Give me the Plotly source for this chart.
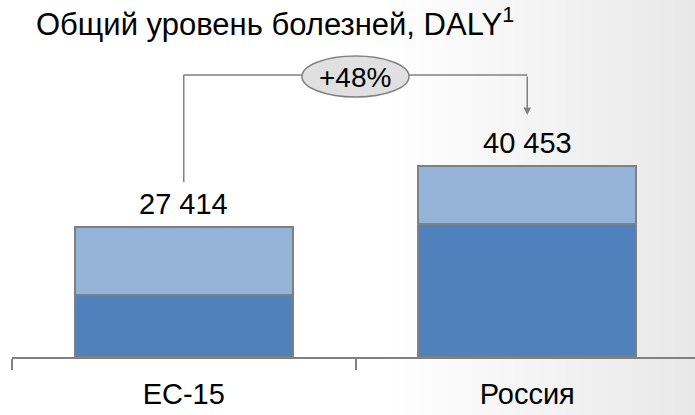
import plotly.graph_objects as go

# ---- data ----
categories = ["ЕС-15", "Россия"]
dark_values = [13100, 28100]      # lower segment
light_values = [14314, 12353]     # upper segment
total_labels = ["27 414", "40 453"]
totals = [27414, 40453]
title_text = "Общий уровень болезней, DALY<sup>1</sup>"

W, H = 695, 415
ML, MB = 12, 58
PW, PH = W - ML, H - MB

def px_x(px):
    return (px - ML) / PW

def px_y(py):
    return (H - MB - py) / PH

FONT = "Liberation Sans, Arial, sans-serif"
GRAY = "#808080"

fig = go.Figure()
fig.add_trace(go.Bar(x=categories, y=dark_values, marker=dict(color="#4f81bd", line=dict(color=GRAY, width=2)),
                     hoverinfo="skip"))
fig.add_trace(go.Bar(x=categories, y=light_values, marker=dict(color="#95b3d7", line=dict(color=GRAY, width=2)),
                     hoverinfo="skip"))

shapes = []
# background gradient (style)
n = 60
x_start, x_end = 385, 695
for i in range(n):
    a = x_start + (x_end - x_start) * i / n
    b = x_start + (x_end - x_start) * (i + 1) / n
    t = (i + 0.5) / n
    v = int(round(255 - (255 - 232) * t))
    shapes.append(dict(type="rect", xref="paper", yref="paper", x0=px_x(a), x1=px_x(b) + 0.002,
                       y0=px_y(H), y1=px_y(0), fillcolor=f"rgb({v},{v},{v})", line=dict(width=0),
                       layer="below"))
# bracket
shapes.append(dict(type="line", xref="x", yref="paper", x0=0, x1=0, y0=px_y(182), y1=px_y(75),
                   line=dict(color=GRAY, width=1.5)))
shapes.append(dict(type="line", xref="x", yref="paper", x0=0, x1=1, y0=px_y(75), y1=px_y(75),
                   line=dict(color=GRAY, width=1.5)))
shapes.append(dict(type="circle", xref="paper", yref="paper", x0=px_x(302), x1=px_x(409),
                   y0=px_y(97), y1=px_y(56), fillcolor="#e0e0e0", line=dict(color=GRAY, width=1.5)))

annotations = []
for c, t, lab in zip(categories, totals, total_labels):
    annotations.append(dict(x=c, y=t, xref="x", yref="y", text=lab, showarrow=False, yanchor="bottom",
                            xanchor="center", yshift=5, font=dict(family=FONT, size=29, color="#000000")))
pct = round((totals[1] / totals[0] - 1) * 100)
annotations.append(dict(x=px_x(355.5), y=px_y(77), xref="paper", yref="paper", text=f"+{pct}%",
                        showarrow=False, xanchor="center", yanchor="middle",
                        font=dict(family=FONT, size=28, color="#000000")))
annotations.append(dict(x=1, y=px_y(115), xref="x", yref="paper", text="", showarrow=True,
                        ax=0, ay=-40, arrowhead=2, arrowsize=1, arrowwidth=1.5, arrowcolor=GRAY))
annotations.append(dict(x=px_x(34), y=px_y(22), xref="paper", yref="paper", text=title_text,
                        showarrow=False, xanchor="left", yanchor="middle",
                        font=dict(family=FONT, size=31, color="#000000")))

fig.update_layout(
    width=W, height=H, barmode="stack", bargap=0.365, showlegend=False,
    margin=dict(l=ML, r=0, t=0, b=MB, pad=0),
    paper_bgcolor="white", plot_bgcolor="rgba(0,0,0,0)",
    shapes=shapes, annotations=annotations,
    xaxis=dict(range=[-0.5, -0.5 + PW / 343.5], showline=True, linecolor=GRAY, linewidth=2,
               ticks="outside", tickson="boundaries", ticklen=11, tickwidth=2, tickcolor=GRAY,
               ticklabelstandoff=10,
               showgrid=False, tickfont=dict(family=FONT, size=29, color="#000000"), fixedrange=True),
    yaxis=dict(range=[0, 75540], visible=False, showgrid=False, fixedrange=True),
)

fig.write_html("out.html", config={"displayModeBar": False},
               post_script=["document.body.style.margin='0px';document.body.style.overflow='hidden';"])
